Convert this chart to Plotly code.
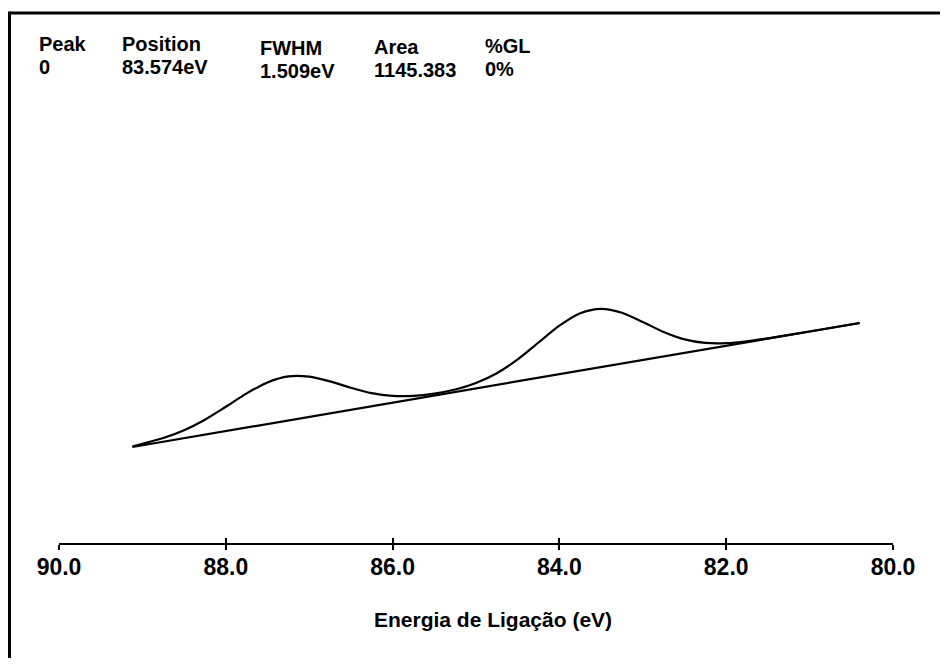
import plotly.graph_objects as go

# Binding energy (eV) and envelope intensity (arb. units)
energy = [89.12, 89.0, 88.75, 88.5, 88.25, 88.0, 87.75, 87.5, 87.25, 87.0,
          86.75, 86.5, 86.25, 86.0, 85.75, 85.5, 85.25, 85.0, 84.75, 84.5,
          84.25, 84.0, 83.75, 83.5, 83.25, 83.0, 82.75, 82.5, 82.25, 82.0,
          81.75, 81.5, 81.0, 80.4]
envelope = [96.5, 99.2, 105.0, 112.8, 123.3, 136.2, 149.6, 160.6, 166.6, 166.4,
            161.6, 155.2, 149.8, 147.1, 147.1, 149.4, 153.5, 160.1, 169.8, 183.6,
            200.5, 217.3, 229.8, 234.2, 230.3, 221.0, 211.0, 203.6, 200.1, 199.8,
            201.7, 204.7, 211.5, 220.0]

# Linear background
bg_energy = [89.12, 80.4]
bg_values = [96.0, 220.0]

tick_vals = [90, 88, 86, 84, 82, 80]
tick_text = ["90.0", "88.0", "86.0", "84.0", "82.0", "80.0"]

header_cols = ["Peak", "Position", "FWHM", "Area", "%GL"]
header_vals = ["0", "83.574eV", "1.509eV", "1145.383", "0%"]
x_title = "Energia de Ligação (eV)"

FONT = "Liberation Sans, Arial, sans-serif"

OFF = 8  # page body margin
W, H = 948 - OFF, 666 - 2 * OFF
ML = 51
PW = 834
MR = W - ML - PW
AXIS_Y = 543          # page y of the axis line
PLOT_H = 443
MB = H - (AXIS_Y - OFF)
MT = H - MB - PLOT_H


def px_x(px):
    return (px - OFF - ML) / PW


def px_y(py):
    return (H - MB - (py - OFF)) / PLOT_H


fig = go.Figure()
fig.add_trace(go.Scatter(x=bg_energy, y=bg_values, mode="lines",
                         line=dict(color="black", width=2.2), hoverinfo="skip"))
fig.add_trace(go.Scatter(x=energy, y=envelope, mode="lines",
                         line=dict(color="black", width=2.2, shape="spline", smoothing=0.8),
                         hoverinfo="skip"))
# invisible trace for the second (inside-tick) axis
fig.add_trace(go.Scatter(x=bg_energy, y=bg_values, mode="lines", xaxis="x2",
                         line=dict(color="rgba(0,0,0,0)", width=0), hoverinfo="skip"))

annotations = []
hx = [37, 120, 258, 372, 483]
hy1 = [44, 44, 48, 47, 46]
hy2 = [67, 67, 71, 70, 69]
for i in range(len(header_cols)):
    annotations.append(dict(text=header_cols[i], x=px_x(hx[i]), y=px_y(hy1[i]),
                            xref="paper", yref="paper", xanchor="left", yanchor="middle",
                            showarrow=False,
                            font=dict(family=FONT, size=20, color="black", weight="bold")))
    annotations.append(dict(text=header_vals[i], x=px_x(hx[i]), y=px_y(hy2[i]),
                            xref="paper", yref="paper", xanchor="left", yanchor="middle",
                            showarrow=False,
                            font=dict(family=FONT, size=20, color="black", weight="bold")))
annotations.append(dict(text=x_title, x=px_x(493), y=px_y(619),
                        xref="paper", yref="paper", xanchor="center", yanchor="middle",
                        showarrow=False,
                        font=dict(family=FONT, size=21, color="black", weight="bold")))

fig.update_layout(
    width=W, height=H,
    margin=dict(l=ML, r=MR, t=MT, b=MB, pad=0),
    paper_bgcolor="white", plot_bgcolor="white",
    showlegend=False,
    xaxis=dict(range=[90, 80], tickvals=tick_vals, ticktext=tick_text,
               showline=True, linecolor="black", linewidth=2,
               ticks="outside", ticklen=5, tickwidth=2, tickcolor="black",
               ticklabelstandoff=-3,
               showgrid=False, zeroline=False,
               tickfont=dict(family=FONT, size=23, color="black", weight="bold")),
    xaxis2=dict(range=[90, 80], tickvals=tick_vals, overlaying="x", anchor="y",
                side="bottom", ticks="inside", ticklen=5, tickwidth=2, tickcolor="black",
                showticklabels=False, showline=False, showgrid=False, zeroline=False),
    yaxis=dict(range=[0, PLOT_H], visible=False, showgrid=False, zeroline=False),
    annotations=annotations,
    shapes=[
        dict(type="line", xref="paper", yref="paper",
             x0=px_x(9.5), x1=px_x(947), y0=px_y(13), y1=px_y(13),
             line=dict(color="black", width=3), layer="above"),
        dict(type="line", xref="paper", yref="paper",
             x0=px_x(9.5), x1=px_x(9.5), y0=px_y(11.5), y1=px_y(670),
             line=dict(color="black", width=3), layer="above"),
    ],
)

fig.write_html("out.html")
